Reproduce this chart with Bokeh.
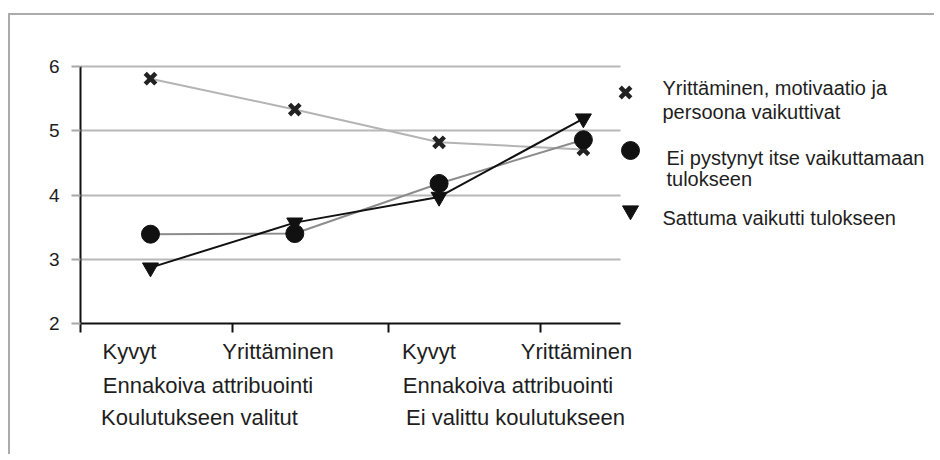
from bokeh.plotting import figure
from bokeh.models import Label, FixedTicker, Range1d, CustomJSTickFormatter, LinearAxis
from bokeh.embed import file_html
from bokeh.resources import INLINE

# ---- data ----
categories = ["Kyvyt", "Yrittäminen", "Kyvyt", "Yrittäminen"]
attribution = ["Ennakoiva attribuointi", "Ennakoiva attribuointi"]
groups = ["Koulutukseen valitut", "Ei valittu koulutukseen"]
y_ticks = [2, 3, 4, 5, 6]

series_names = [
    "Yrittäminen, motivaatio ja\npersoona vaikuttivat",
    "Ei pystynyt itse vaikuttamaan\ntulokseen",
    "Sattuma vaikutti tulokseen",
]
motivaatio = [5.81, 5.33, 4.82, 4.71]
ei_pystynyt = [3.39, 3.40, 4.18, 4.86]
sattuma = [2.87, 3.57, 3.97, 5.19]

xs = list(range(len(categories)))

# ---- layout (page pixels) ----
OX, OY = 10, 15                 # canvas offset on the page (after css border/margin)
W, H = 926, 441
FRAME_L, FRAME_T, FRAME_B = 80, 60, 323
Y6_PX = 66
PX_X = 144.3
PX_Y = (FRAME_B - Y6_PX) / 4.0
XSTART = -0.485


def dx(px):
    return XSTART + (px - FRAME_L) / PX_X


def dy(py):
    return 6 - (py - Y6_PX) / PX_Y


FONT = "Liberation Sans"
TXT = "#1e1e1e"

p = figure(width=W, height=H,
           x_range=Range1d(XSTART, dx(OX + W)), y_range=Range1d(2, dy(FRAME_T)),
           output_backend="svg", toolbar_location=None,
           min_border_left=FRAME_L - OX, min_border_right=0,
           min_border_top=FRAME_T - OY, min_border_bottom=OY + H - FRAME_B)
p.styles = {"border-top": "2px solid #ababab", "border-left": "2px solid #ababab",
            "margin-top": "13px", "margin-left": "8px"}
p.outline_line_color = None
p.background_fill_color = "white"
p.border_fill_color = "white"

AX_END = dx(620)

# main x axis: boundary ticks only
p.xaxis.ticker = FixedTicker(ticks=[XSTART, dx(232), dx(388), dx(540)])
p.xaxis.formatter = CustomJSTickFormatter(code="return ''")
p.xaxis.major_label_text_font_size = "1px"
p.xaxis.bounds = (XSTART, AX_END)
p.xaxis.axis_line_color = "#111111"
p.xaxis.axis_line_width = 2
p.xaxis.major_tick_line_color = "#111111"
p.xaxis.major_tick_line_width = 2
p.xaxis.major_tick_out = 9
p.xaxis.major_tick_in = 0
p.xaxis.minor_tick_line_color = None

p.yaxis.ticker = FixedTicker(ticks=y_ticks)
p.yaxis.bounds = (2, 6)
p.yaxis.axis_line_color = "#111111"
p.yaxis.axis_line_width = 2
p.yaxis.major_tick_line_color = "#a8a8a8"
p.yaxis.major_tick_line_width = 2
p.yaxis.major_tick_out = 9
p.yaxis.major_tick_in = 0
p.yaxis.minor_tick_line_color = None
p.yaxis.major_label_standoff = 12
p.yaxis.major_label_text_font = FONT
p.yaxis.major_label_text_font_size = "19px"
p.yaxis.major_label_text_color = TXT

p.xgrid.visible = False
p.ygrid.ticker = FixedTicker(ticks=y_ticks)
p.ygrid.grid_line_color = "#b8b8b8"
p.ygrid.grid_line_width = 2
p.ygrid.cross_bounds = (XSTART, AX_END)


# category label rows as extra bottom axes
def label_axis(texts, centers, standoff):
    ax = LinearAxis(ticker=FixedTicker(ticks=[dx(c) for c in centers]),
                    formatter=CustomJSTickFormatter(args=dict(labels=texts), code="return labels[index]"),
                    axis_line_color=None, major_tick_line_color=None, minor_tick_line_color=None,
                    major_tick_out=0, major_tick_in=0, major_label_standoff=standoff,
                    major_label_text_font=FONT, major_label_text_font_size="22px",
                    major_label_text_color=TXT)
    p.add_layout(ax, "below")


label_axis(categories, [129, 277.5, 428.5, 576], 6)
label_axis(attribution, [207.5, 507.5], 6)
label_axis(groups, [199, 515], 4)

# series
p.line(xs, motivaatio, line_color="#b4b4b4", line_width=2)
p.line(xs, ei_pystynyt, line_color="#8c8c8c", line_width=2)
p.line(xs, sattuma, line_color="#111111", line_width=2)
MK = [dict(marker="x", size=15, line_width=4.5, line_color="#222222", fill_color=None),
      dict(marker="circle", size=18, fill_color="#111111", line_color="#111111"),
      dict(marker="inverted_triangle", size=16, fill_color="#111111", line_color="#111111")]
for vals, mk in zip([motivaatio, ei_pystynyt, sattuma], MK):
    p.scatter(xs, vals, **mk)

# legend (keys + text)
key_pos = [(625, 92), (630, 150), (630, 210)]
text_pos = [[(662, 87), (662, 111)], [(666, 157), (666, 178)], [(662, 217)]]
for name, mk, kp, tp in zip(series_names, MK, key_pos, text_pos):
    p.scatter([dx(kp[0])], [dy(kp[1])], **mk)
    for line, (px, py) in zip(name.split("\n"), tp):
        p.add_layout(Label(x=dx(px), y=dy(py), text=line, text_font=FONT, text_font_size="20px",
                           text_color=TXT, text_align="left", text_baseline="alphabetic"))

open("out.html", "w").write(file_html(p, INLINE))
